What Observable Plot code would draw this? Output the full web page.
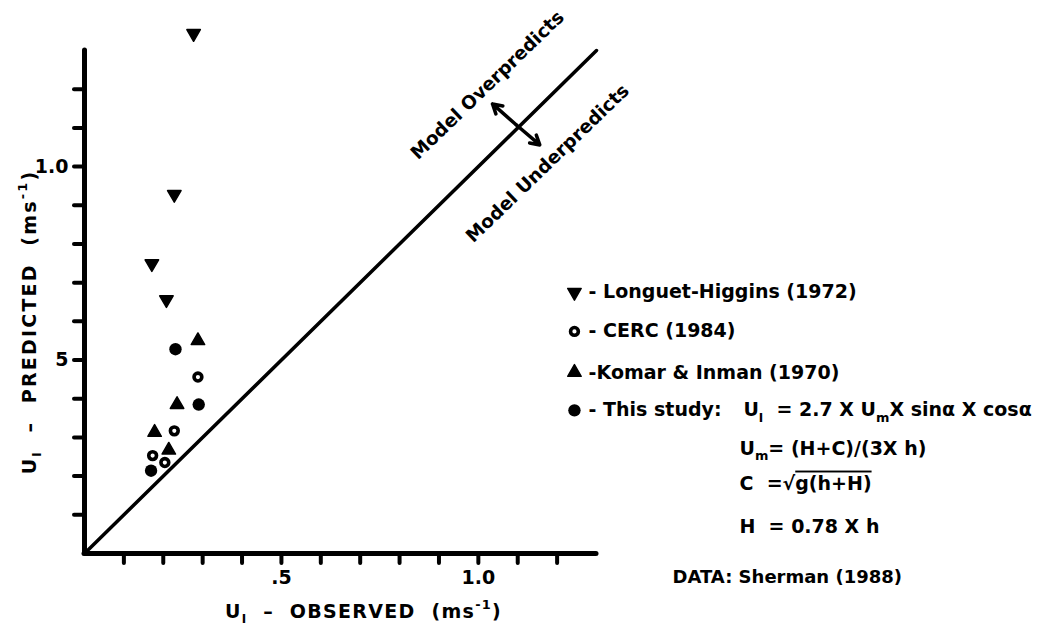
<!DOCTYPE html>
<html><head><meta charset="utf-8">
<script src="https://cdn.jsdelivr.net/npm/d3@7"></script>
<script src="https://cdn.jsdelivr.net/npm/@observablehq/plot@0.6"></script>
<style>
body{margin:0;background:#fff;}
#chart{width:1064px;height:625px;}
#chart svg text{font-family:"DejaVu Sans",sans-serif;font-weight:bold;fill:#000;}
</style></head><body><div id="chart"></div>
<script>
// ---- data ----
const lhObs   = [0.277, 0.228, 0.171, 0.208];
const lhPred  = [1.344, 0.928, 0.749, 0.656];
const cercObs  = [0.288, 0.228, 0.173, 0.204];
const cercPred = [0.456, 0.317, 0.253, 0.235];
const kiObs   = [0.288, 0.235, 0.178, 0.214];
const kiPred  = [0.550, 0.385, 0.313, 0.267];
const thisObs  = [0.231, 0.290, 0.169];
const thisPred = [0.528, 0.385, 0.214];
const seriesNames = ["- Longuet-Higgins (1972)", "- CERC (1984)", "-Komar & Inman (1970)", "- This study:"];
const xTicks = [0.1,0.2,0.3,0.4,0.5,0.6,0.7,0.8,0.9,1.0,1.1,1.2];
const yTicks = [0.1,0.2,0.3,0.4,0.5,0.6,0.7,0.8,0.9,1.0,1.1,1.2];
const xLabelTicks = [0.5, 1.0];
const xLabelText = [".5", "1.0"];
const yLabelTicks = [0.5, 1.0];
const yLabelText = ["5", "1.0"];
const oneToOne = [0, 1.3];
const xTitle = "U_{l}  –  OBSERVED  (ms^{-1})";
const yTitle = "U_{l}  –  PREDICTED  (ms^{-1})";
const regionLabels = ["Model Overpredicts", "Model Underpredicts"];
const formulaLines = ["U_{l}  = 2.7 X U_{m}X sinα X cosα", "U_{m}= (H+C)/(3X h)", "C  =√~{g(h+H)}", "H  = 0.78 X h"];
const sourceNote = "DATA: Sherman (1988)";

const downTriangle = {draw(ctx, size){
  const y = Math.sqrt(size / (3 * Math.sqrt(3)));
  ctx.moveTo(0, 2 * y); ctx.lineTo(-Math.sqrt(3) * y, -y); ctx.lineTo(Math.sqrt(3) * y, -y); ctx.closePath();
}};
const styles = [
  {symbol: downTriangle, r: 5, fill: "black", stroke: "black", strokeWidth: 1.5, strokeLinejoin: "round"},
  {symbol: "circle", r: 3.9, fill: "white", stroke: "black", strokeWidth: 3.6},
  {symbol: "triangle", r: 5, fill: "black", stroke: "black", strokeWidth: 1.5, strokeLinejoin: "round"},
  {symbol: "circle", r: 6.2, fill: "black", stroke: "none"}
];
const obsList = [lhObs, cercObs, kiObs, thisObs];
const predList = [lhPred, cercPred, kiPred, thisPred];
const legendRowY = [0.675, 0.574, 0.468, 0.370];

const seriesMarks = [];
obsList.forEach((obs, s) => {
  const rows = obs.map((x, i) => ({x, y: predList[s][i]}));
  seriesMarks.push(Plot.dot(rows, {x: "x", y: "y", ...styles[s]}));
  seriesMarks.push(Plot.dot([seriesNames[s]], {x: () => 1.244, y: () => legendRowY[s], ...styles[s]}));
});

const chart = Plot.plot({
  width: 1064, height: 625,
  marginLeft: 84, marginRight: 468, marginTop: 50, marginBottom: 72,
  x: {domain: [0, 1.3], label: null},
  y: {domain: [0, 1.3], label: null},
  style: {fontFamily: '"DejaVu Sans", sans-serif', fontWeight: "bold", fontSize: "18px", color: "black", background: "white", overflow: "visible"},
  marks: [
    Plot.line(oneToOne, {x: d => d, y: d => d, stroke: "black", strokeWidth: 3.5}),
    Plot.ruleY([0], {stroke: "black", strokeWidth: 5, strokeLinecap: "round"}),
    Plot.ruleX([0], {stroke: "black", strokeWidth: 5, strokeLinecap: "round"}),
    Plot.axisX({ticks: xTicks, tickSize: 10, tickFormat: () => "", strokeWidth: 4, strokeLinecap: "round", label: null}),
    Plot.axisX({ticks: xLabelTicks, tickSize: 0, tickPadding: 17, fontSize: 19, tickFormat: d => xLabelText[xLabelTicks.indexOf(d)], label: null}),
    Plot.axisY({ticks: yTicks, tickSize: 10, tickFormat: () => "", strokeWidth: 4, strokeLinecap: "round", label: null}),
    Plot.axisY({ticks: yLabelTicks, tickSize: 0, tickPadding: 16, fontSize: 19, tickFormat: d => yLabelText[yLabelTicks.indexOf(d)], label: null}),
    Plot.text([xTitle], {frameAnchor: "bottom", textAnchor: "middle", lineAnchor: "middle", dx: 23, dy: 58, fontSize: 19}),
    Plot.text([yTitle], {frameAnchor: "left", textAnchor: "middle", lineAnchor: "middle", dx: -55, dy: 20, rotate: -90, fontSize: 19}),
    Plot.text(regionLabels, {x: (d, i) => [1.023, 1.176][i], y: (d, i) => [1.21, 1.008][i], rotate: -44, fontSize: 18.5}),
    Plot.arrow([0], {x1: 1.096, y1: 1.108, x2: 1.036, y2: 1.162, stroke: "black", strokeWidth: 3.5, headLength: 10}),
    Plot.arrow([0], {x1: 1.096, y1: 1.108, x2: 1.156, y2: 1.056, stroke: "black", strokeWidth: 3.5, headLength: 10}),
    ...seriesMarks,
    Plot.text(seriesNames, {x: () => 1.28, y: (d, i) => legendRowY[i], textAnchor: "start", fontSize: 19}),
    Plot.text(formulaLines, {x: (d, i) => i === 0 ? 1.673 : 1.663, y: (d, i) => [0.370, 0.271, 0.181, 0.070][i], textAnchor: "start", fontSize: 19}),
    Plot.text([sourceNote], {x: 1.493, y: -0.062, textAnchor: "start", fontSize: 18})
  ]
});
document.getElementById("chart").appendChild(chart);

// axis titles: wider letter spacing as in the hand lettering
chart.querySelectorAll("text").forEach(t => {
  if (t.textContent === xTitle || t.textContent === yTitle) t.setAttribute("letter-spacing", t.textContent === yTitle ? "2.2" : "1.3");
});

// rich text: _{sub} ^{sup} ~{overline}
chart.querySelectorAll("text").forEach(t => {
  const s = t.textContent;
  if (!/[_^~]\{/.test(s) || t.children.length) return;
  const fs = parseFloat(getComputedStyle(t).fontSize) || 18;
  const parts = []; const re = /([_^~])\{([^}]*)\}/g; let last = 0, m;
  while ((m = re.exec(s))) {
    if (m.index > last) parts.push({t: s.slice(last, m.index), k: ""});
    parts.push({t: m[2], k: m[1]}); last = re.lastIndex;
  }
  if (last < s.length) parts.push({t: s.slice(last), k: ""});
  t.textContent = "";
  let shift = 0;
  for (const p of parts) {
    const ts = document.createElementNS("http://www.w3.org/2000/svg", "tspan");
    ts.textContent = p.t;
    const target = p.k === "_" ? 0.3 * fs : p.k === "^" ? -0.45 * fs : 0;
    if (target !== shift) { ts.setAttribute("dy", target - shift); shift = target; }
    if (p.k === "_" || p.k === "^") ts.setAttribute("font-size", 0.68 * fs);
    if (p.k === "~") ts.setAttribute("text-decoration", "overline");
    t.appendChild(ts);
  }
});
</script></body></html>
